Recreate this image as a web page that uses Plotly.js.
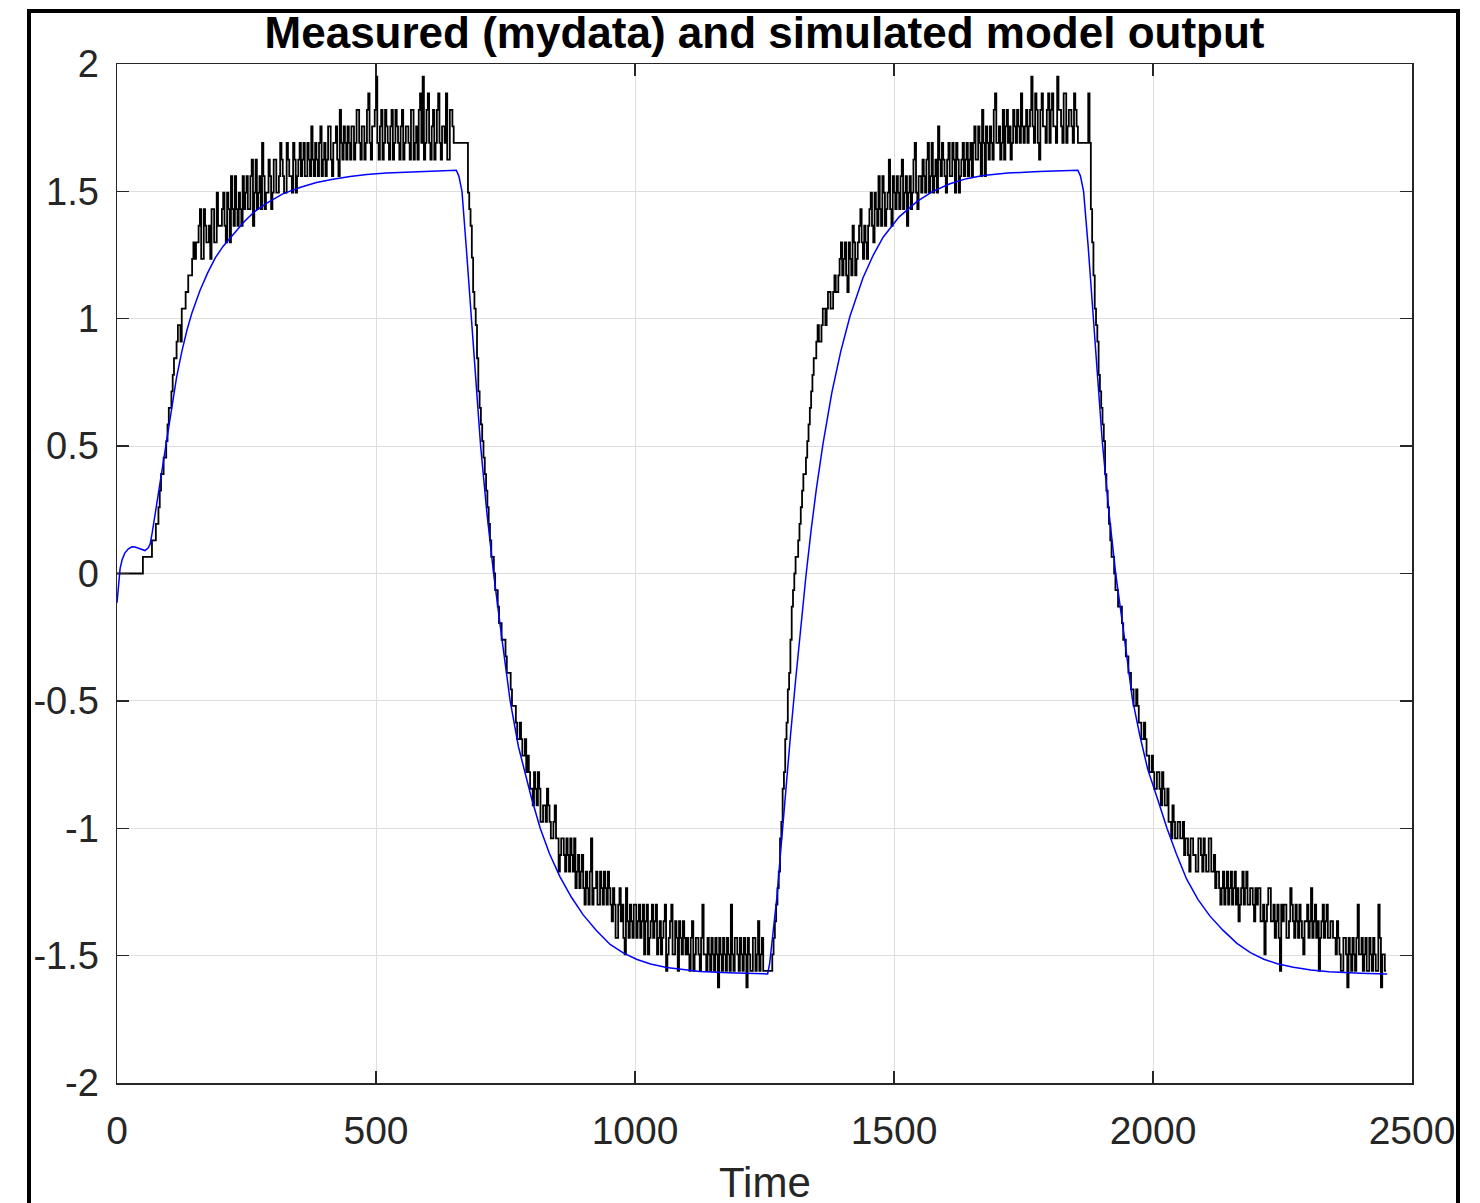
<!DOCTYPE html>
<html>
<head>
<meta charset="utf-8">
<script src="https://cdn.plot.ly/plotly-3.0.1.min.js"></script>
<style>
  html, body { margin: 0; padding: 0; background: #ffffff; }
  #wrap { position: relative; width: 1480px; height: 1203px; overflow: hidden; }
  #chart { position: absolute; left: 0; top: 0; width: 1480px; height: 1203px; }
  #frame { position: absolute; left: 27px; top: 9px; width: 1425px; height: 1300px;
           border: 4px solid #000; pointer-events: none; }
  #rightmask { position: absolute; left: 1460px; top: 0; width: 20px; height: 1203px;
               background: #fff; pointer-events: none; }
</style>
</head>
<body>
<div id="wrap">
  <div id="chart"></div>
  <div id="rightmask"></div>
  <div id="frame"></div>
</div>
<script>
// ---------------- data ----------------
const chartTitle = 'Measured (mydata) and simulated model output';
const xAxisTitle = 'Time';

const xTickValues = [0, 500, 1000, 1500, 2000, 2500];
const xTickLabels = ['0', '500', '1000', '1500', '2000', '2500'];
const yTickValues = [-2, -1.5, -1, -0.5, 0, 0.5, 1, 1.5, 2];
const yTickLabels = ['-2', '-1.5', '-1', '-0.5', '0', '0.5', '1', '1.5', '2'];

// measured output (mydata): samples at t = 0, 5, 10, ... 2450
const measuredStep = 5;
const measuredValues = [
  0,0,0,0,0,0,0,0,0,0,
  0.065,0.065,0.065,0.065,0.13,0.195,0.26,0.39,0.455,0.52,
  0.65,0.715,0.845,0.91,0.975,1.04,1.04,1.105,1.17,1.235,
  1.235,1.3,1.43,1.235,1.365,1.3,1.235,1.43,1.3,1.365,
  1.365,1.495,1.3,1.43,1.56,1.365,1.43,1.495,1.365,1.43,
  1.56,1.43,1.625,1.495,1.43,1.56,1.69,1.43,1.495,1.56,
  1.495,1.625,1.495,1.69,1.56,1.495,1.625,1.56,1.69,1.495,
  1.625,1.56,1.69,1.56,1.625,1.755,1.56,1.625,1.69,1.56,
  1.69,1.625,1.755,1.56,1.69,1.625,1.82,1.625,1.69,1.755,
  1.625,1.755,1.69,1.82,1.625,1.755,1.69,1.885,1.625,1.755,
  1.95,1.625,1.82,1.69,1.755,1.625,1.82,1.69,1.755,1.625,
  1.82,1.69,1.755,1.625,1.82,1.69,1.625,1.885,1.95,1.69,
  1.885,1.625,1.82,1.69,1.885,1.625,1.755,1.885,1.625,1.82,
  1.69,1.69,1.69,1.69,1.69,1.69,1.43,1.24,1.04,0.845,
  0.65,0.52,0.39,0.26,0.13,0.065,-0.065,-0.13,-0.195,-0.26,
  -0.325,-0.39,-0.455,-0.52,-0.585,-0.65,-0.65,-0.715,-0.78,-0.78,
  -0.845,-0.78,-0.91,-0.845,-0.975,-0.91,-0.845,-0.975,-1.04,-0.91,
  -1.04,-1.105,-1.04,-1.17,-1.105,-1.04,-1.17,-1.235,-1.105,-1.17,
  -1.235,-1.17,-1.3,-1.04,-1.235,-1.17,-1.3,-1.235,-1.17,-1.3,
  -1.235,-1.365,-1.3,-1.43,-1.235,-1.3,-1.495,-1.365,-1.3,-1.43,
  -1.3,-1.365,-1.43,-1.3,-1.365,-1.495,-1.365,-1.43,-1.3,-1.43,
  -1.495,-1.365,-1.56,-1.43,-1.3,-1.495,-1.43,-1.365,-1.495,-1.43,
  -1.43,-1.56,-1.365,-1.495,-1.43,-1.56,-1.3,-1.495,-1.43,-1.56,
  -1.495,-1.43,-1.625,-1.495,-1.43,-1.56,-1.495,-1.3,-1.56,-1.43,
  -1.56,-1.495,-1.43,-1.625,-1.495,-1.56,-1.43,-1.495,-1.56,-1.43,
  -1.56,-1.56,-1.56,-1.495,-1.365,-1.235,-1.04,-0.845,-0.65,-0.455,
  -0.26,-0.065,0.065,0.13,0.26,0.39,0.455,0.585,0.715,0.845,
  0.91,0.91,0.975,1.04,1.04,1.105,1.04,1.17,1.105,1.235,
  1.17,1.3,1.105,1.235,1.365,1.17,1.3,1.43,1.235,1.3,
  1.365,1.495,1.3,1.43,1.56,1.365,1.495,1.43,1.625,1.365,
  1.495,1.56,1.43,1.625,1.495,1.365,1.56,1.495,1.69,1.43,
  1.56,1.625,1.495,1.69,1.56,1.495,1.625,1.755,1.56,1.625,
  1.495,1.69,1.56,1.625,1.69,1.495,1.625,1.56,1.69,1.625,
  1.56,1.755,1.625,1.69,1.82,1.56,1.69,1.755,1.625,1.885,
  1.69,1.625,1.82,1.755,1.69,1.625,1.82,1.69,1.755,1.885,
  1.69,1.82,1.755,1.95,1.69,1.82,1.625,1.885,1.755,1.82,
  1.69,1.885,1.755,1.95,1.82,1.69,1.885,1.755,1.82,1.69,
  1.82,1.69,1.69,1.69,1.69,1.885,1.43,1.17,0.975,0.78,
  0.65,0.52,0.325,0.195,0.065,0,-0.065,-0.13,-0.195,-0.26,
  -0.325,-0.39,-0.455,-0.52,-0.52,-0.585,-0.65,-0.65,-0.715,-0.78,
  -0.78,-0.845,-0.78,-0.91,-0.845,-0.91,-0.975,-1.04,-0.975,-1.04,
  -0.975,-1.04,-1.105,-1.04,-1.17,-1.04,-1.105,-1.17,-1.04,-1.17,
  -1.105,-1.17,-1.04,-1.17,-1.235,-1.17,-1.3,-1.17,-1.235,-1.3,
  -1.17,-1.235,-1.3,-1.365,-1.235,-1.3,-1.17,-1.3,-1.235,-1.365,
  -1.3,-1.235,-1.365,-1.495,-1.3,-1.235,-1.365,-1.43,-1.3,-1.56,
  -1.365,-1.3,-1.43,-1.235,-1.365,-1.3,-1.43,-1.365,-1.495,-1.365,
  -1.43,-1.235,-1.365,-1.43,-1.56,-1.365,-1.43,-1.3,-1.43,-1.365,
  -1.43,-1.365,-1.495,-1.56,-1.43,-1.625,-1.495,-1.43,-1.56,-1.3,
  -1.495,-1.56,-1.43,-1.56,-1.495,-1.43,-1.56,-1.3,-1.625,-1.495,
  -1.56
];
// measured output (mydata): samples in between, at t = 2.5, 7.5, ... 2447.5
const measuredMidValues = [
  0,0,0,0,0,0,0,0,0,0,
  0.065,0.065,0.065,0.13,0.13,0.195,0.325,0.39,0.455,0.585,
  0.65,0.78,0.845,0.975,0.91,1.04,1.105,1.17,1.17,1.3,
  1.3,1.365,1.235,1.43,1.3,1.365,1.43,1.3,1.495,1.365,
  1.43,1.365,1.495,1.3,1.43,1.56,1.365,1.43,1.56,1.495,
  1.43,1.56,1.365,1.625,1.495,1.43,1.56,1.495,1.625,1.43,
  1.625,1.495,1.56,1.625,1.495,1.69,1.56,1.495,1.625,1.56,
  1.69,1.625,1.56,1.69,1.56,1.625,1.69,1.56,1.755,1.625,
  1.56,1.755,1.625,1.69,1.755,1.56,1.69,1.755,1.625,1.69,
  1.755,1.625,1.82,1.69,1.755,1.625,1.82,1.69,1.755,1.82,
  1.69,1.755,1.625,1.82,1.69,1.755,1.625,1.82,1.69,1.755,
  1.625,1.755,1.69,1.82,1.625,1.755,1.82,1.69,1.625,1.82,
  1.69,1.755,1.625,1.82,1.69,1.755,1.69,1.625,1.82,1.755,
  1.69,1.69,1.69,1.69,1.69,1.495,1.365,1.105,0.975,0.715,
  0.585,0.455,0.325,0.195,0.065,0,-0.065,-0.195,-0.26,-0.26,
  -0.39,-0.39,-0.52,-0.52,-0.65,-0.585,-0.715,-0.65,-0.715,-0.845,
  -0.91,-0.845,-0.78,-0.975,-0.91,-0.975,-0.91,-1.04,-0.975,-1.04,
  -1.17,-1.04,-1.105,-1.04,-1.17,-1.105,-1.04,-1.17,-1.235,-1.105,
  -1.3,-1.235,-1.17,-1.3,-1.235,-1.3,-1.17,-1.3,-1.235,-1.17,
  -1.3,-1.235,-1.43,-1.3,-1.365,-1.43,-1.235,-1.43,-1.365,-1.3,
  -1.43,-1.3,-1.365,-1.495,-1.3,-1.43,-1.3,-1.365,-1.495,-1.365,
  -1.43,-1.3,-1.495,-1.365,-1.495,-1.365,-1.56,-1.43,-1.365,-1.495,
  -1.495,-1.43,-1.56,-1.43,-1.495,-1.43,-1.495,-1.56,-1.495,-1.43,
  -1.56,-1.495,-1.43,-1.56,-1.495,-1.43,-1.56,-1.495,-1.43,-1.495,
  -1.43,-1.56,-1.495,-1.43,-1.56,-1.43,-1.56,-1.365,-1.495,-1.56,
  -1.56,-1.56,-1.56,-1.43,-1.3,-1.17,-0.975,-0.78,-0.585,-0.39,
  -0.13,0,0.065,0.195,0.325,0.39,0.52,0.65,0.78,0.845,
  0.975,0.91,1.04,0.975,1.105,1.04,1.105,1.105,1.17,1.3,
  1.235,1.17,1.3,1.17,1.3,1.235,1.365,1.3,1.365,1.235,
  1.43,1.365,1.495,1.365,1.43,1.56,1.365,1.495,1.43,1.56,
  1.43,1.495,1.56,1.43,1.56,1.495,1.43,1.625,1.495,1.56,
  1.495,1.56,1.625,1.495,1.69,1.56,1.495,1.625,1.69,1.56,
  1.625,1.56,1.69,1.495,1.625,1.56,1.69,1.625,1.56,1.69,
  1.69,1.625,1.755,1.56,1.69,1.755,1.625,1.69,1.82,1.69,
  1.755,1.69,1.625,1.82,1.755,1.69,1.755,1.82,1.69,1.755,
  1.755,1.69,1.82,1.755,1.885,1.69,1.82,1.755,1.69,1.885,
  1.82,1.755,1.69,1.82,1.755,1.885,1.69,1.82,1.755,1.885,
  1.755,1.69,1.69,1.69,1.69,1.69,1.3,1.04,0.91,0.715,
  0.585,0.39,0.26,0.13,0.065,-0.065,-0.13,-0.13,-0.26,-0.325,
  -0.39,-0.455,-0.52,-0.455,-0.585,-0.65,-0.585,-0.715,-0.78,-0.715,
  -0.845,-0.78,-0.845,-0.78,-0.91,-0.845,-0.975,-0.91,-1.04,-0.975,
  -1.04,-0.975,-1.04,-1.105,-1.04,-1.105,-1.17,-1.04,-1.105,-1.04,
  -1.17,-1.04,-1.17,-1.105,-1.17,-1.235,-1.235,-1.3,-1.17,-1.235,
  -1.3,-1.17,-1.235,-1.3,-1.17,-1.235,-1.3,-1.235,-1.3,-1.235,
  -1.235,-1.365,-1.3,-1.365,-1.235,-1.365,-1.3,-1.365,-1.43,-1.3,
  -1.3,-1.43,-1.365,-1.3,-1.43,-1.365,-1.3,-1.43,-1.365,-1.3,
  -1.365,-1.43,-1.3,-1.365,-1.43,-1.3,-1.365,-1.43,-1.365,-1.43,
  -1.495,-1.43,-1.56,-1.43,-1.495,-1.43,-1.56,-1.495,-1.43,-1.495,
  -1.43,-1.495,-1.56,-1.43,-1.56,-1.495,-1.56,-1.43,-1.495,-1.56
];

// simulated model output
const simTime = [
  0,3,6,10,15,22,29,35,41,48,54,60,64,68,73,78,83,88,93,100,
  107,115,125,135,145,160,175,190,205,224,245,265,290,320,353,385,417,450,482,520,
  580,620,655,
  660,666,675,684,693,702,714,727,742,759,775,791,800,817,835,855,877,900,925,952,
  978,1004,1030,1061,1095,1125,1180,1256,
  1260,1264,1269,1274,1280,1286,1293,1300,1310,1320,1330,1340,1350,1363,1380,1397,1415,1440,1460,1479,
  1510,1544,1575,1608,1640,1672,1720,1780,1855,
  1860,1866,1875,1884,1893,1902,1915,1928,1944,1960,1975,1990,2008,2027,2045,2065,2087,2110,2135,2162,
  2188,2214,2240,2271,2305,2340,2400,2452
];
const simValues = [
  -0.115,-0.04,0.02,0.055,0.08,0.097,0.105,0.104,0.1,0.093,0.09,0.1,0.115,0.16,0.225,0.295,0.365,0.435,0.5,0.59,
  0.68,0.77,0.87,0.955,1.025,1.11,1.18,1.24,1.285,1.33,1.38,1.42,1.455,1.49,1.515,1.535,1.548,1.558,1.566,1.572,
  1.578,1.581,1.583,
  1.56,1.5,1.26,1.0,0.75,0.5,0.24,0,-0.24,-0.5,-0.68,-0.81,-0.88,-1.0,-1.1,-1.19,-1.27,-1.34,-1.4,-1.456,
  -1.49,-1.515,-1.533,-1.547,-1.556,-1.562,-1.567,-1.572,
  -1.53,-1.46,-1.37,-1.27,-1.12,-0.97,-0.8,-0.64,-0.42,-0.21,-0.01,0.17,0.33,0.51,0.71,0.87,1.01,1.16,1.25,1.32,
  1.4,1.46,1.5,1.53,1.55,1.562,1.572,1.578,1.583,
  1.56,1.5,1.28,1.02,0.78,0.52,0.24,0,-0.24,-0.49,-0.64,-0.77,-0.88,-1.0,-1.1,-1.2,-1.28,-1.345,-1.4,-1.452,
  -1.488,-1.514,-1.532,-1.546,-1.556,-1.563,-1.569,-1.572
];

// merge the two interleaved measured sample sets into one time-ordered series
const measuredTime = [];
const measuredSeries = [];
measuredValues.forEach((v, i) => {
  measuredTime.push(i * measuredStep);
  measuredSeries.push(v);
  if (i < measuredMidValues.length) {
    measuredTime.push(i * measuredStep + measuredStep / 2);
    measuredSeries.push(measuredMidValues[i]);
  }
});

// ---------------- chart ----------------
const axisColor = '#262626';
const fontFamily = '"Liberation Sans", Arial, Helvetica, sans-serif';

const traces = [
  {
    x: measuredTime, y: measuredSeries, type: 'scatter', mode: 'lines',
    line: { color: '#000000', width: 1.8, shape: 'hv' },
    name: 'mydata', hoverinfo: 'skip'
  },
  {
    x: simTime, y: simValues, type: 'scatter', mode: 'lines',
    line: { color: '#0000ff', width: 1.5 },
    name: 'model', hoverinfo: 'skip'
  }
];

const layout = {
  width: 1480, height: 1203,
  margin: { l: 117, r: 68, t: 64, b: 120 },
  paper_bgcolor: '#ffffff', plot_bgcolor: '#ffffff',
  showlegend: false,
  font: { family: fontFamily, color: axisColor },
  title: {
    text: chartTitle,
    font: { family: fontFamily, size: 44, color: '#000000', weight: 700 },
    x: 0.5, xref: 'paper', xanchor: 'center',
    y: 1 - 33 / 1203, yref: 'container', yanchor: 'middle'
  },
  annotations: [
    {
      text: xAxisTitle, xref: 'paper', yref: 'paper', x: 0.5, y: -0.098,
      xanchor: 'center', yanchor: 'middle', showarrow: false,
      font: { family: fontFamily, size: 42, color: axisColor }
    }
  ],
  xaxis: {
    range: [0, 2500], tickmode: 'array', tickvals: xTickValues, ticktext: xTickLabels,
    ticks: 'inside', ticklen: 12, tickwidth: 1.3, tickcolor: axisColor,
    mirror: 'allticks', showline: true, linecolor: axisColor, linewidth: 1.5,
    showgrid: true, gridcolor: '#dedede', gridwidth: 1, zeroline: false,
    tickfont: { family: fontFamily, size: 39, color: axisColor },
    ticklabelstandoff: 13
  },
  yaxis: {
    range: [-2, 2], tickmode: 'array', tickvals: yTickValues, ticktext: yTickLabels,
    ticks: 'inside', ticklen: 12, tickwidth: 1.3, tickcolor: axisColor,
    mirror: 'allticks', showline: true, linecolor: axisColor, linewidth: 1.5,
    showgrid: true, gridcolor: '#dedede', gridwidth: 1, zeroline: false,
    tickfont: { family: fontFamily, size: 38, color: axisColor },
    ticklabelstandoff: 9
  }
};

Plotly.newPlot('chart', traces, layout, { displayModeBar: false, staticPlot: true });
</script>
</body>
</html>
